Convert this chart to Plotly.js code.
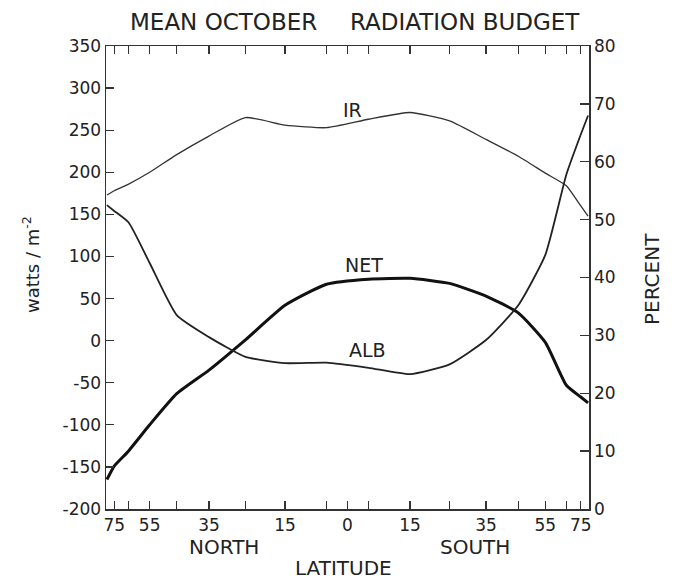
<!DOCTYPE html>
<html>
<head>
<meta charset="utf-8">
<script src="https://cdn.plot.ly/plotly-3.0.1.min.js"></script>
<style>html,body{margin:0;padding:0;background:#fff;}#chart{width:678px;height:581px;}</style>
</head>
<body>
<div id="chart"></div>
<script>
// Latitude band centres (north positive, south negative)
const latitudes = [85, 75, 65, 55, 45, 35, 25, 15, 5, -5, -15, -25, -35, -45, -55, -65, -75, -85];
// Outgoing infrared, W/m^2
const irValues  = [173, 178, 186, 200, 221, 243, 265, 256, 253, 263, 271, 261, 239, 219, 199, 184, 160, 148];
// Net radiation, W/m^2
const netValues = [-165, -149, -131, -100, -63, -35, 1, 42, 67, 73, 74, 68, 53, 33, -2, -53, -67, -74];
// Albedo, percent
const albValues = [52.5, 51.5, 49.5, 42.5, 33.5, 29.7, 26.3, 25.2, 25.3, 24.4, 23.3, 25.0, 29.2, 35.2, 43.9, 57.8, 64.7, 68.0];

// Latitude ticks (area-weighted axis: position = sin(latitude))
const latLabelTicks = [75, 55, 35, 15, 0, -15, -35, -55, -75];
const latLabelText = ["75", "55", "35", "15", "0", "15", "35", "55", "75"];
const latMinorTicks = [65, 45, 25, 5, -5, -25, -45, -65];
const wattTicks = [-200, -150, -100, -50, 0, 50, 100, 150, 200, 250, 300, 350];
const wattTickText = ["-200", "-150", "-100", "-50", "0", "50", "100", "150", "200", "250", "300", "350"];
const pctTicks = [0, 10, 20, 30, 40, 50, 60, 70, 80];

const toX = lat => Math.sin(lat * Math.PI / 180);
const xs = latitudes.map(toX);

const ink = '#222';
const font = 'DejaVu Sans, Liberation Sans, sans-serif';

const traces = [
  {x: xs, y: irValues, type: 'scatter', mode: 'lines', name: 'IR',
   line: {color: '#333', width: 1.3, shape: 'spline', smoothing: 0.5}, yaxis: 'y'},
  {x: xs, y: albValues, type: 'scatter', mode: 'lines', name: 'ALB',
   line: {color: '#222', width: 1.8, shape: 'spline', smoothing: 0.5}, yaxis: 'y2'},
  {x: xs, y: netValues, type: 'scatter', mode: 'lines', name: 'NET',
   line: {color: '#111', width: 3, shape: 'spline', smoothing: 0.5}, yaxis: 'y'}
];

const L = 106, R = 589, T = 46, B = 509;
const px = v => (v - L) / (R - L);
const py = v => (B - v) / (B - T);
function ann(text, x, y, size, extra) {
  return Object.assign({text: text, xref: 'paper', yref: 'paper', x: px(x), y: py(y),
    xanchor: 'center', yanchor: 'middle', showarrow: false,
    font: {family: font, size: size, color: ink}}, extra || {});
}

const layout = {
  width: 678, height: 581,
  margin: {l: L, r: 678 - R, t: T, b: 581 - B},
  paper_bgcolor: '#fff', plot_bgcolor: '#fff',
  showlegend: false,
  font: {family: font, color: ink},
  xaxis: {
    range: [1, -1], tickmode: 'array',
    tickvals: latLabelTicks.map(toX), ticktext: latLabelText,
    ticks: 'inside', ticklen: 8, tickwidth: 1.3, tickcolor: '#333',
    minor: {tickmode: 'array', tickvals: latMinorTicks.map(toX), ticks: 'inside',
            ticklen: 8, tickwidth: 1.3, tickcolor: '#333', showgrid: false},
    showline: true, linecolor: '#333', linewidth: 1.5, mirror: 'ticks',
    showgrid: false, zeroline: false,
    tickfont: {family: font, size: 17, color: ink}
  },
  yaxis: {
    range: [-200, 350], tickmode: 'array', tickvals: wattTicks, ticktext: wattTickText,
    ticks: 'inside', ticklen: 8, tickwidth: 1.3, tickcolor: '#333',
    showline: true, linecolor: '#333', linewidth: 1.5,
    showgrid: false, zeroline: false,
    tickfont: {family: font, size: 17, color: ink}
  },
  yaxis2: {
    range: [0, 80], tickmode: 'array', tickvals: pctTicks, overlaying: 'y', side: 'right',
    ticks: 'inside', ticklen: 9, tickwidth: 1.3, tickcolor: '#333',
    showline: true, linecolor: '#333', linewidth: 1.5,
    showgrid: false, zeroline: false,
    tickfont: {family: font, size: 17, color: ink}
  },
  annotations: [
    ann('MEAN OCTOBER', 223, 22, 23),
    ann('RADIATION BUDGET', 465, 22, 23),
    ann('watts / m<sup>-2</sup>', 31, 265, 18, {textangle: -90}),
    ann('PERCENT', 652, 279, 20, {textangle: -90}),
    ann('NORTH', 224, 547, 20),
    ann('SOUTH', 475, 547, 20),
    ann('LATITUDE', 343, 568, 20),
    ann('IR', 352, 110, 19),
    ann('NET', 364, 265, 19),
    ann('ALB', 367, 350, 19)
  ]
};

Plotly.newPlot('chart', traces, layout, {displayModeBar: false, staticPlot: true});
</script>
</body>
</html>
